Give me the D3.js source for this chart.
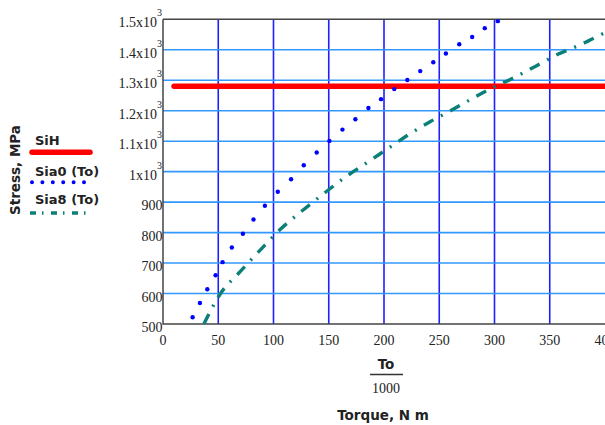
<!DOCTYPE html>
<html><head><meta charset="utf-8">
<script src="https://cdn.jsdelivr.net/npm/d3@7"></script>
<style>
html,body{margin:0;padding:0;background:#fff;}
svg{display:block;}
</style></head>
<body>
<svg id="chart" width="605" height="425"></svg>
<script>
// ---- data ----
const xTicks = [0, 50, 100, 150, 200, 250, 300, 350, 400];
const xTickLabels = ["0", "50", "100", "150", "200", "250", "300", "350", "400"];
const yTicks = [500, 600, 700, 800, 900, 1000, 1100, 1200, 1300, 1400, 1500];
const yTickBase = ["500", "600", "700", "800", "900", "1x10", "1.1x10", "1.2x10", "1.3x10", "1.4x10", "1.5x10"];
const yTickSup  = ["", "", "", "", "", "3", "3", "3", "3", "3", "3"];

const sihT = [10, 400];
const sihS = [1280, 1280];

// Sia0(To): sampled points (drawn as a dotted trace)
const sia0T = [26.8, 33.4, 40.1, 47.6, 53.9, 62.3, 72.3, 81.9, 92.2, 103.9, 115.9, 127.4, 139.1, 150.6, 162.4, 174.1, 185.9, 197.3, 209.3, 221.1, 232.8, 244.6, 256.0, 268.1, 279.8, 291.2, 303.0];
const sia0S = [522, 569, 614, 660, 703, 751, 796, 843, 888, 934, 975, 1021, 1063, 1101, 1138, 1172, 1209, 1238, 1271, 1301, 1330, 1359, 1388, 1418, 1442, 1471, 1494];

const sia8T = [37, 51.5, 69.6, 88.6, 107.2, 126.8, 145.8, 165.4, 185.6, 203.6, 221.7, 241.3, 259.3, 278.9, 298.5, 318, 337.7, 357.2, 376.8, 396.4, 402];
const sia8S = [500, 597, 671, 745, 814, 874, 929, 983, 1032, 1076, 1120, 1163, 1198, 1238, 1276, 1309, 1347, 1385, 1415, 1450, 1460];

const legendNames = ["SiH", "Sia0", "Sia8"];

// ---- layout ----
const svg = d3.select("#chart");
const L = 163, R = 605, T = 19.3, B = 324;
const x = d3.scaleLinear().domain([0, 400]).range([L, R]);
const y = d3.scaleLinear().domain([500, 1500]).range([B, T]);

const serif = "'Liberation Serif','Times New Roman',serif";
const sans = "'DejaVu Sans',Verdana,sans-serif";

svg.append("defs").append("clipPath").attr("id", "clip")
  .append("rect").attr("x", L).attr("y", T).attr("width", R - L + 5).attr("height", B - T);

// grid
const grid = svg.append("g");
grid.selectAll("line.v").data(xTicks.filter(d => d > 0 && d < 400)).join("line")
  .attr("x1", d => x(d)).attr("x2", d => x(d)).attr("y1", T).attr("y2", B)
  .attr("stroke", "#1f1fff").attr("stroke-width", 1.6);
grid.selectAll("line.h").data(yTicks.filter(d => d > 500 && d < 1500)).join("line")
  .attr("x1", L).attr("x2", R).attr("y1", d => y(d)).attr("y2", d => y(d))
  .attr("stroke", "#3399ff").attr("stroke-width", 1.6);

// frame
svg.append("path")
  .attr("d", `M${L},${T}H${R + 2}M${L},${T}V${B}H${R + 2}`)
  .attr("fill", "none").attr("stroke", "#444").attr("stroke-width", 1.5);

// series
const line = d3.line().x(d => x(d[0])).y(d => y(d[1])).curve(d3.curveMonotoneX);
const plot = svg.append("g").attr("clip-path", "url(#clip)");

plot.append("path").datum(d3.zip(sihT, sihS)).attr("d", line)
  .attr("fill", "none").attr("stroke", "#ff0000").attr("stroke-width", 5.5).attr("stroke-linecap", "round");

plot.append("g").selectAll("circle").data(d3.zip(sia0T, sia0S)).join("circle")
  .attr("cx", d => x(d[0])).attr("cy", d => y(d[1])).attr("r", 2.2).attr("fill", "#0000ff");

plot.append("path").datum(d3.zip(sia8T, sia8S)).attr("d", line)
  .attr("fill", "none").attr("stroke", "#0a8078").attr("stroke-width", 3.4)
  .attr("stroke-dasharray", "11 8.5 2 8.5");

// y ticks
const yt = svg.append("g").attr("font-family", serif).attr("fill", "#222");
yTicks.forEach((v, i) => {
  yt.append("text").attr("text-anchor", "end").attr("font-size", 14)
    .attr("x", yTickSup[i] ? 157 : 162.5).attr("y", y(v) + 8).text(yTickBase[i]);
  if (yTickSup[i]) {
    yt.append("text").attr("text-anchor", "start").attr("font-size", 10)
      .attr("x", 157).attr("y", y(v) - 3).text(yTickSup[i]);
  }
});

// x ticks
svg.append("g").attr("font-family", serif).attr("font-size", 14).attr("fill", "#222")
  .selectAll("text").data(xTicks).join("text")
  .attr("x", d => x(d)).attr("y", 345).attr("text-anchor", "middle")
  .text((d, i) => xTickLabels[i]);

// x title
svg.append("text").attr("x", 386).attr("y", 369).attr("text-anchor", "middle")
  .attr("font-family", sans).attr("font-weight", "bold").attr("font-size", 13.5).attr("fill", "#222").text("To");
svg.append("line").attr("x1", 370).attr("x2", 403).attr("y1", 374.5).attr("y2", 374.5)
  .attr("stroke", "#333").attr("stroke-width", 1.3);
svg.append("text").attr("x", 386).attr("y", 393).attr("text-anchor", "middle")
  .attr("font-family", serif).attr("font-size", 14).attr("fill", "#222").text("1000");
svg.append("text").attr("x", 383).attr("y", 420).attr("text-anchor", "middle")
  .attr("font-family", sans).attr("font-weight", "bold").attr("font-size", 13.5).attr("fill", "#222").text("Torque, N m");

// y title
svg.append("text").attr("transform", "translate(20,170) rotate(-90)").attr("text-anchor", "middle")
  .attr("font-family", sans).attr("font-weight", "bold").attr("font-size", 13.5).attr("fill", "#222")
  .text("Stress, MPa");

// legend
const lg = svg.append("g").attr("font-family", sans).attr("font-weight", "bold").attr("font-size", 13).attr("fill", "#222");
lg.append("text").attr("x", 35).attr("y", 145).text(legendNames[0]);
lg.append("line").attr("x1", 32).attr("x2", 90).attr("y1", 152.3).attr("y2", 152.3)
  .attr("stroke", "#ff0000").attr("stroke-width", 5.5).attr("stroke-linecap", "round");
lg.append("text").attr("x", 35).attr("y", 176).text(legendNames[1] + " (To)");
lg.append("line").attr("x1", 32).attr("x2", 86).attr("y1", 182.3).attr("y2", 182.3)
  .attr("stroke", "#0000ff").attr("stroke-width", 4).attr("stroke-linecap", "round").attr("stroke-dasharray", "0 10.4");
lg.append("text").attr("x", 35).attr("y", 204).text(legendNames[2] + " (To)");
lg.append("line").attr("x1", 30).attr("x2", 90).attr("y1", 213).attr("y2", 213)
  .attr("stroke", "#0a8078").attr("stroke-width", 3.4).attr("stroke-dasharray", "6 6 1.5 7.5");
</script>
</body></html>
